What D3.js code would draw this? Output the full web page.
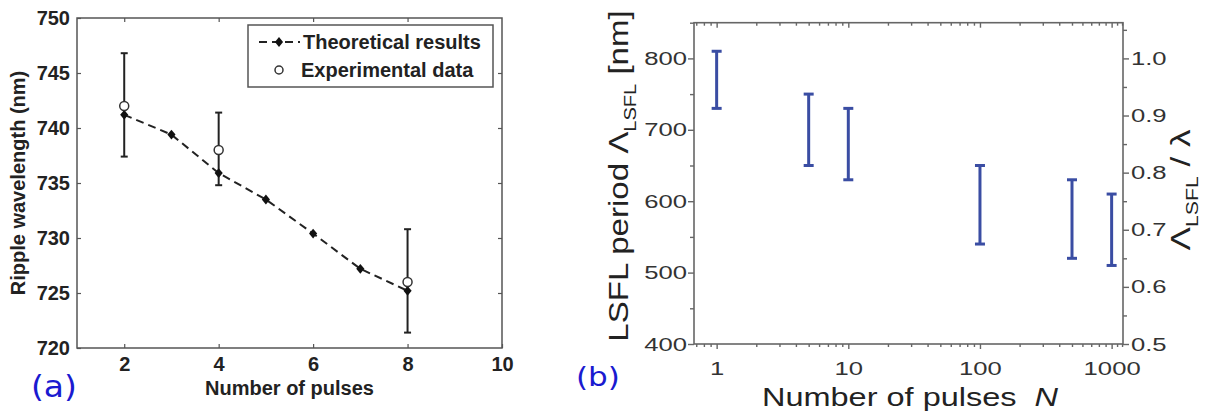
<!DOCTYPE html>
<html>
<head>
<meta charset="utf-8">
<script src="https://cdn.jsdelivr.net/npm/d3@7"></script>
<style>
  body { margin: 0; background: #fff; }
  svg { display: block; }
</style>
</head>
<body>
<div class="main"></div>
<script>
// panel (a) data
const theoryX = [2, 3, 4, 5, 6, 7, 8];
const theoryY = [741.2, 739.4, 735.9, 733.5, 730.4, 727.2, 725.2];
const expX = [2, 4, 8];
const expY = [742, 738, 726];
const expLow = [737.4, 734.8, 721.4];
const expHigh = [746.8, 741.4, 730.8];
const aTicksX = [2, 4, 6, 8, 10];
const aTicksY = [720, 725, 730, 735, 740, 745, 750];

// panel (b) data
const pulses = [1, 5, 10, 100, 500, 1000];
const periodLow = [730, 650, 630, 540, 520, 510];
const periodHigh = [810, 750, 730, 650, 630, 610];
const bTicksX = [1, 10, 100, 1000];
const bTicksY = [400, 500, 600, 700, 800];
const bTicksRatio = [0.5, 0.6, 0.7, 0.8, 0.9, 1.0];

const width = 1210, height = 414;
const svg = d3.select('.main').append('svg')
    .attr('width', width)
    .attr('height', height);

// ---------- panel (a) ----------
const ax = d3.scaleLinear().domain([1, 10]).range([77, 502]);
const ay = d3.scaleLinear().domain([720, 750]).range([348, 18]);
const aFont = "'Liberation Sans', Arial, sans-serif";

const ga = svg.append('g');

// box
ga.append('rect')
    .attr('x', ax(1)).attr('y', ay(750))
    .attr('width', ax(10) - ax(1)).attr('height', ay(720) - ay(750))
    .attr('fill', 'none').attr('stroke', '#555').attr('stroke-width', 1.5);

function styleA(g) {
    g.select('.domain').remove();
    g.selectAll('.tick line').attr('stroke', '#555').attr('stroke-width', 1.2);
    g.selectAll('.tick text')
        .attr('fill', '#222')
        .style('font-family', aFont)
        .style('font-weight', 'bold')
        .style('font-size', '20px');
}

ga.append('g').attr('transform', `translate(0,${ay(720)})`)
    .call(d3.axisBottom(ax).tickValues(aTicksX).tickSizeInner(-4).tickSizeOuter(0).tickPadding(9))
    .call(styleA);
ga.append('g').attr('transform', `translate(0,${ay(750)})`)
    .call(d3.axisTop(ax).tickValues(aTicksX.slice(0, 4)).tickSizeInner(-4).tickSizeOuter(0).tickFormat(''))
    .call(styleA);
ga.append('g').attr('transform', `translate(${ax(1)},0)`)
    .call(d3.axisLeft(ay).tickValues(aTicksY).tickSizeInner(-4).tickSizeOuter(0).tickPadding(7))
    .call(styleA);
ga.append('g').attr('transform', `translate(${ax(10)},0)`)
    .call(d3.axisRight(ay).tickValues(aTicksY.slice(1, 6)).tickSizeInner(-4).tickSizeOuter(0).tickFormat(''))
    .call(styleA);

// theoretical line
const theory = theoryX.map((x, i) => ({ x: x, y: theoryY[i] }));
ga.append('path')
    .datum(theory)
    .attr('fill', 'none')
    .attr('stroke', '#222')
    .attr('stroke-width', 2)
    .attr('stroke-dasharray', '8,5')
    .attr('d', d3.line().x(d => ax(d.x)).y(d => ay(d.y)));

// error bars
const exp = expX.map((x, i) => ({ x: x, y: expY[i], lo: expLow[i], hi: expHigh[i] }));
const errA = ga.selectAll('.err-a').data(exp).enter().append('g').attr('class', 'err-a')
    .attr('stroke', '#222').attr('stroke-width', 2);
errA.append('line')
    .attr('x1', d => ax(d.x)).attr('x2', d => ax(d.x))
    .attr('y1', d => ay(d.lo)).attr('y2', d => ay(d.hi));
errA.append('line')
    .attr('x1', d => ax(d.x) - 3.5).attr('x2', d => ax(d.x) + 3.5)
    .attr('y1', d => ay(d.lo)).attr('y2', d => ay(d.lo));
errA.append('line')
    .attr('x1', d => ax(d.x) - 3.5).attr('x2', d => ax(d.x) + 3.5)
    .attr('y1', d => ay(d.hi)).attr('y2', d => ay(d.hi));

// theoretical markers
const marker = d3.symbol().type(d3.symbolDiamond).size(34);
ga.selectAll('.theory-pt').data(theory).enter().append('path')
    .attr('class', 'theory-pt')
    .attr('transform', d => `translate(${ax(d.x)},${ay(d.y)}) scale(1.3,0.9)`)
    .attr('d', marker)
    .attr('fill', '#111');

// experimental circles
ga.selectAll('.exp-pt').data(exp).enter().append('circle')
    .attr('class', 'exp-pt')
    .attr('cx', d => ax(d.x)).attr('cy', d => ay(d.y))
    .attr('r', 4.5)
    .attr('fill', '#fff').attr('stroke', '#333').attr('stroke-width', 1.5);

// legend
const lg = ga.append('g');
lg.append('rect')
    .attr('x', 248).attr('y', 25).attr('width', 245).attr('height', 62)
    .attr('fill', '#fff').attr('stroke', '#555').attr('stroke-width', 1.5);
lg.append('line')
    .attr('x1', 259).attr('x2', 300).attr('y1', 42).attr('y2', 42)
    .attr('stroke', '#222').attr('stroke-width', 2).attr('stroke-dasharray', '8,5');
lg.append('path')
    .attr('transform', 'translate(279,42) scale(1.3,0.9)')
    .attr('d', marker).attr('fill', '#111');
lg.append('circle')
    .attr('cx', 279).attr('cy', 70).attr('r', 4)
    .attr('fill', '#fff').attr('stroke', '#333').attr('stroke-width', 1.5);
lg.selectAll('.lg-text').data(['Theoretical results', 'Experimental data']).enter().append('text')
    .attr('x', (d, i) => i ? 301 : 303)
    .attr('y', (d, i) => 49 + i * 28)
    .attr('fill', '#222')
    .style('font-family', aFont).style('font-weight', 'bold').style('font-size', '20px')
    .text(d => d);

// axis titles
ga.append('text')
    .attr('x', (ax(1) + ax(10)) / 2).attr('y', 395)
    .attr('text-anchor', 'middle').attr('fill', '#222')
    .style('font-family', aFont).style('font-weight', 'bold').style('font-size', '20px')
    .text('Number of pulses');
ga.append('text')
    .attr('transform', `translate(25,${(ay(720) + ay(750)) / 2}) rotate(-90)`)
    .attr('text-anchor', 'middle').attr('fill', '#222')
    .style('font-family', aFont).style('font-weight', 'bold').style('font-size', '20px')
    .text('Ripple wavelength (nm)');

// ---------- panel (b) ----------
const bx = d3.scaleLog().domain([0.673, 1220]).range([694, 1123]);
const by = d3.scaleLinear().domain([400, 850]).range([344, 22.7]);
const byR = d3.scaleLinear().domain([0.5, 1.0625]).range([344, 22.7]);
const bFont = "'Liberation Sans', Arial, sans-serif";
const sx = 1.35;

const gb = svg.append('g');

const minorX = [];
[0.1, 1, 10, 100].forEach(p => {
    for (let k = 2; k <= 9; k++) {
        const v = k * p;
        if (v > 0.673 && v < 1220) minorX.push(v);
    }
});
minorX.push(1100, 1200);
const minorY = [450, 550, 650, 750, 850];
const minorR = [0.55, 0.65, 0.75, 0.85, 0.95, 1.05];

function styleB(g) {
    g.select('.domain').remove();
    g.selectAll('.tick line').attr('stroke', '#666').attr('stroke-width', 1.4);
    g.selectAll('.tick text')
        .attr('fill', '#333')
        .style('font-family', bFont)
        .style('font-size', '19px');
}

// bottom
gb.append('g').attr('transform', `translate(0,${by(400)})`)
    .call(d3.axisBottom(bx).tickValues(bTicksX).tickSize(5).tickPadding(13).tickFormat(d3.format('d')))
    .call(styleB)
    .selectAll('.tick text').attr('transform', `scale(${sx},1)`);
gb.append('g').attr('transform', `translate(0,${by(400)})`)
    .call(d3.axisBottom(bx).tickValues(minorX).tickSize(3).tickFormat(''))
    .call(styleB);
// top (ticks inward)
gb.append('g').attr('transform', `translate(0,${by(850)})`)
    .call(d3.axisBottom(bx).tickValues(bTicksX).tickSize(5).tickFormat(''))
    .call(styleB);
gb.append('g').attr('transform', `translate(0,${by(850)})`)
    .call(d3.axisBottom(bx).tickValues(minorX).tickSize(3).tickFormat(''))
    .call(styleB);
// left
gb.append('g').attr('transform', `translate(${bx.range()[0]},0)`)
    .call(d3.axisLeft(by).tickValues(bTicksY).tickSize(6).tickPadding(2).tickFormat(d3.format('d')))
    .call(styleB)
    .selectAll('.tick text').attr('transform', `scale(${sx},1)`).attr('x', -7 / sx);
gb.append('g').attr('transform', `translate(${bx.range()[0]},0)`)
    .call(d3.axisLeft(by).tickValues(minorY).tickSize(4).tickFormat(''))
    .call(styleB);
// right
gb.append('g').attr('transform', `translate(${bx.range()[1]},0)`)
    .call(d3.axisRight(byR).tickValues(bTicksRatio).tickSize(6).tickFormat(d3.format('.1f')))
    .call(styleB)
    .selectAll('.tick text').attr('transform', `scale(${sx},1)`).attr('x', 8 / sx);
gb.append('g').attr('transform', `translate(${bx.range()[1]},0)`)
    .call(d3.axisRight(byR).tickValues(minorR).tickSize(4).tickFormat(''))
    .call(styleB);

// frame
gb.append('rect')
    .attr('x', bx.range()[0]).attr('y', by(850))
    .attr('width', bx.range()[1] - bx.range()[0]).attr('height', by(400) - by(850))
    .attr('fill', 'none').attr('stroke', '#666').attr('stroke-width', 1.6);

// error bars
const bars = pulses.map((n, i) => ({ n: n, lo: periodLow[i], hi: periodHigh[i] }));
const errB = gb.selectAll('.err-b').data(bars).enter().append('g').attr('class', 'err-b')
    .attr('stroke', '#3a4da3').attr('stroke-width', 3);
errB.append('line')
    .attr('x1', d => bx(d.n)).attr('x2', d => bx(d.n))
    .attr('y1', d => by(d.lo)).attr('y2', d => by(d.hi));
errB.append('line')
    .attr('x1', d => bx(d.n) - 5).attr('x2', d => bx(d.n) + 5)
    .attr('y1', d => by(d.lo)).attr('y2', d => by(d.lo));
errB.append('line')
    .attr('x1', d => bx(d.n) - 5).attr('x2', d => bx(d.n) + 5)
    .attr('y1', d => by(d.hi)).attr('y2', d => by(d.hi));

// axis titles
const xt = gb.append('text')
    .attr('transform', `translate(910,406) scale(1.3,1)`)
    .attr('text-anchor', 'middle').attr('fill', '#222')
    .style('font-family', bFont).style('font-size', '25px');
xt.append('tspan').text('Number of pulses\u00a0\u00a0');
xt.append('tspan').style('font-style', 'italic').text('N');

const yt = gb.append('text')
    .attr('transform', `translate(628,176) rotate(-90) scale(1.18,1)`)
    .attr('text-anchor', 'middle').attr('fill', '#222')
    .style('font-family', bFont).style('font-size', '28px');
yt.append('tspan').text('LSFL period \u039b');
yt.append('tspan').attr('dy', 8).style('font-size', '17px').text('LSFL');
yt.append('tspan').attr('dy', -8).text(' [nm]');

const rt = gb.append('text')
    .attr('transform', `translate(1190,190) rotate(-90) scale(1.25,1)`)
    .attr('text-anchor', 'middle').attr('fill', '#222')
    .style('font-family', bFont).style('font-size', '28px');
rt.append('tspan').text('\u039b');
rt.append('tspan').attr('dy', 8).style('font-size', '17px').text('LSFL');
rt.append('tspan').attr('dy', -8).text(' / \u03bb');

// panel labels
svg.append('text')
    .attr('transform', 'translate(31,397) scale(1.1,1)')
    .attr('fill', '#1a1ad0')
    .style('font-family', "'DejaVu Sans', sans-serif").style('font-size', '30px')
    .text('(a)');
svg.append('text')
    .attr('transform', 'translate(576,386) scale(1.15,1)')
    .attr('fill', '#1a1ad0')
    .style('font-family', "'DejaVu Sans', sans-serif").style('font-size', '27px')
    .text('(b)');
</script>
</body>
</html>
